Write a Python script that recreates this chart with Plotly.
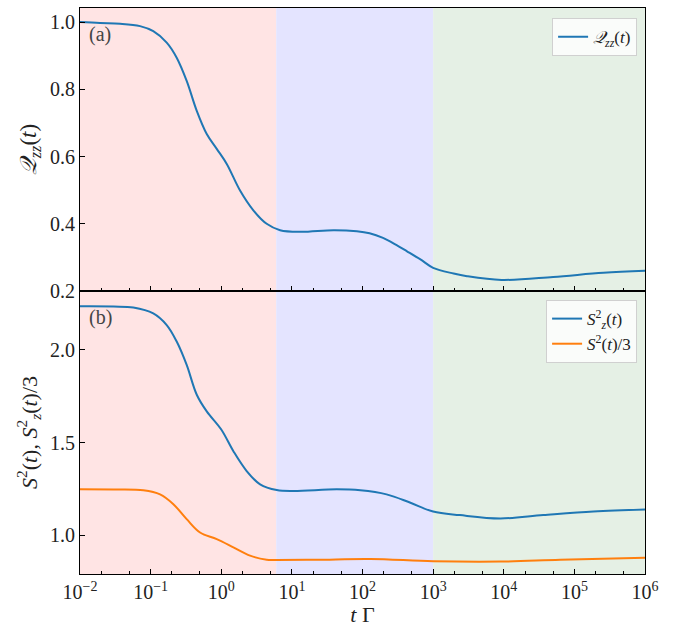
import plotly.graph_objects as go
from plotly.subplots import make_subplots

# ---- data ----
t_q = [0.01, 0.0192, 0.0369, 0.0708, 0.109, 0.169, 0.234, 0.324, 0.45, 0.623, 0.863, 1.197,
       1.846, 2.85, 4.40, 6.81, 13.2, 38.9, 83.2, 126, 195, 300, 427, 661, 1000, 1950, 3020, 9330,
       50100, 257000, 1000000]
q_zz = [1.0, 0.997, 0.995, 0.988, 0.973, 0.939, 0.894, 0.825, 0.736, 0.667, 0.623, 0.578,
        0.499, 0.44, 0.40, 0.381, 0.376, 0.381, 0.378, 0.372, 0.358, 0.337, 0.318, 0.294, 0.269, 0.252,
        0.244, 0.233, 0.242, 0.254, 0.26]

t_sz = [0.01, 0.03, 0.0569, 0.109, 0.169, 0.234, 0.324, 0.45, 0.623, 1.0, 1.486, 2.29, 3.55, 6.11,
        10.5, 43.2, 93.3, 219, 468, 1000, 2400, 8910, 36300, 186000, 1000000]
sz2 = [2.235, 2.234, 2.229, 2.197, 2.134, 2.045, 1.919, 1.758, 1.668, 1.57, 1.453, 1.346, 1.274, 1.243,
       1.238, 1.247, 1.242, 1.22, 1.176, 1.127, 1.108, 1.09, 1.108, 1.127, 1.138]

t_s = [0.01, 0.03, 0.0789, 0.136, 0.21, 0.324, 0.501, 0.863, 1.486, 2.56, 4.40, 6.17, 22.4,
       129, 1000, 8910, 63100, 1000000]
s2_3 = [1.247, 1.246, 1.242, 1.22, 1.167, 1.086, 1.014, 0.978, 0.934, 0.889, 0.867, 0.866, 0.867,
        0.871, 0.859, 0.857, 0.867, 0.878]

x_tickvals = [0.01, 0.1, 1, 10, 100, 1000, 10000, 100000, 1000000]
x_ticktext = ["10<sup>−2</sup>", "10<sup>−1</sup>", "10<sup>0</sup>", "10<sup>1</sup>", "10<sup>2</sup>",
              "10<sup>3</sup>", "10<sup>4</sup>", "10<sup>5</sup>", "10<sup>6</sup>"]

regions = [(0.01, 6.0, "rgb(255,228,228)"), (6.0, 1000, "rgb(228,228,255)"), (1000, 1e6, "rgb(229,240,229)")]

FONT = "Liberation Serif"
BLUE = "#1f77b4"
ORANGE = "#ff7f0e"

fig = make_subplots(rows=2, cols=1, shared_xaxes=True, vertical_spacing=0)

line_kw = dict(width=2, shape="spline", smoothing=1.0)
fig.add_trace(go.Scatter(x=t_q, y=q_zz, mode="lines", line=dict(color=BLUE, **line_kw),
                         name="<i>𝒬<sub>zz</sub></i>(<i>t</i>)", legend="legend"), row=1, col=1)
fig.add_trace(go.Scatter(x=t_sz, y=sz2, mode="lines", line=dict(color=BLUE, **line_kw),
                         name="<i>S</i><sup>2</sup><sub><i>z</i></sub>(<i>t</i>)", legend="legend2"), row=2, col=1)
fig.add_trace(go.Scatter(x=t_s, y=s2_3, mode="lines", line=dict(color=ORANGE, **line_kw),
                         name="<i>S</i><sup>2</sup>(<i>t</i>)/3", legend="legend2"), row=2, col=1)

for yref in ["y domain", "y2 domain"]:
    for x0, x1, c in regions:
        fig.add_shape(type="rect", xref="x", yref=yref, x0=x0, x1=x1, y0=0, y1=1,
                      fillcolor=c, line=dict(width=0), layer="below")

axis_common = dict(showline=True, linecolor="black", linewidth=1.2, mirror=True, ticks="inside",
                   tickcolor="black", showgrid=False, zeroline=False,
                   tickfont=dict(family=FONT, size=20, color="#222"))

fig.update_xaxes(type="log", range=[-2, 6], tickvals=x_tickvals, ticktext=x_ticktext, ticklen=5,
                 minor=dict(ticks="inside", ticklen=2.5, tickcolor="black", showgrid=False),
                 **axis_common)
fig.update_xaxes(showticklabels=False, row=1, col=1)
fig.update_xaxes(title=dict(text="<i>t</i> Γ", font=dict(family=FONT, size=22, color="#222"), standoff=2),
                 row=2, col=1)

fig.update_yaxes(ticklen=5, **axis_common)
fig.update_yaxes(range=[0.2, 1.042], tickvals=[0.2, 0.4, 0.6, 0.8, 1.0], ticktext=["0.2", "0.4", "0.6", "0.8", "1.0"],
                 title=dict(text="<i>𝒬<sub>zz</sub></i>(<i>t</i>)", font=dict(family=FONT, size=23, color="#222"), standoff=6),
                 row=1, col=1)
fig.update_yaxes(range=[0.79, 2.318], tickvals=[1.0, 1.5, 2.0], ticktext=["1.0", "1.5", "2.0"],
                 title=dict(text="<i>S</i><sup>2</sup>(<i>t</i>), <i>S</i><sup>2</sup><sub><i>z</i></sub>(<i>t</i>)/3",
                            font=dict(family=FONT, size=22, color="#222"), standoff=6),
                 row=2, col=1)

fig.add_annotation(text="(a)", xref="x domain", yref="y domain", x=0.012, y=0.955, xanchor="left", yanchor="top",
                   showarrow=False, font=dict(family=FONT, size=20, color="#444"))
fig.add_annotation(text="(b)", xref="x2 domain", yref="y2 domain", x=0.012, y=0.955, xanchor="left", yanchor="top",
                   showarrow=False, font=dict(family=FONT, size=20, color="#444"))

legend_style = dict(bgcolor="rgba(255,255,255,0.8)", bordercolor="#d0d0d0", borderwidth=1,
                    font=dict(family=FONT, size=17, color="#222"), xanchor="right", yanchor="top")

fig.update_layout(
    width=683, height=627,
    margin=dict(l=80, r=38, t=7, b=52),
    plot_bgcolor="white", paper_bgcolor="white",
    font=dict(family=FONT),
    legend=dict(x=0.986, y=0.982, **legend_style),
    legend2=dict(x=0.986, y=0.484, **legend_style),
    showlegend=True,
)

fig.write_html("out.html")
